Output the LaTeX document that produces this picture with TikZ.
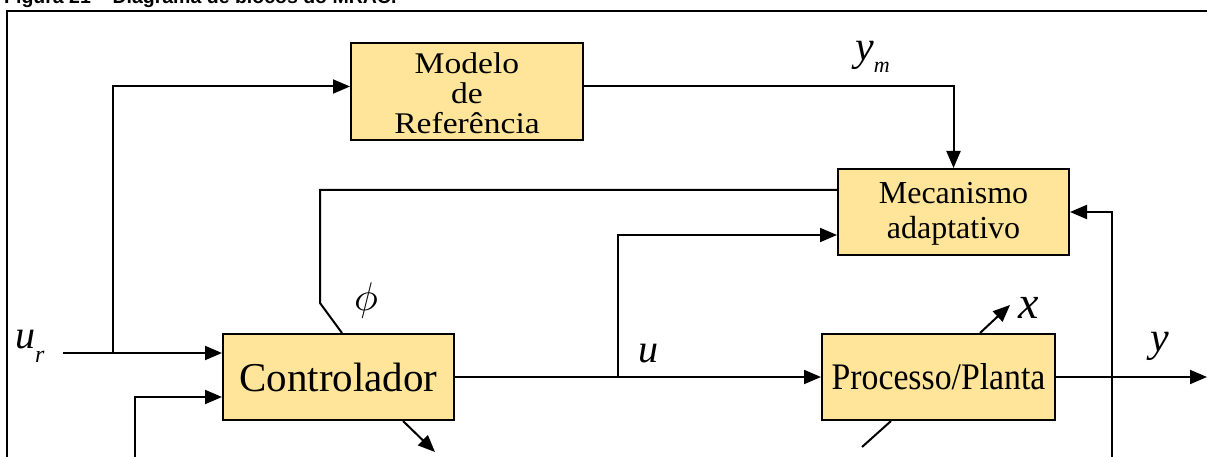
\documentclass[tikz,border=0pt]{standalone}
\usepackage{fontspec}
\setmainfont{Liberation Serif}
\setsansfont{Liberation Sans}
\usepackage{tikz}
\usetikzlibrary{arrows.meta}
\usetikzlibrary{positioning}

\definecolor{caixa}{RGB}{255,229,153}

\tikzset{
  bloco/.style={draw, line width=2pt, fill=caixa, inner sep=0pt, align=center},
  sinal/.style={line width=2pt, -{Triangle[length=17pt,width=14pt]}},
  fio/.style={line width=2pt},
  rotulo/.style={inner sep=0pt, anchor=base west},
}

\begin{document}
\begin{tikzpicture}[x=1pt,y=1pt]
  \useasboundingbox (0,0) rectangle (1207,-457);
  %% titulo e moldura
  \node (titulo) at (4,-4) [rotulo]{\sffamily\bfseries\fontsize{19.5}{20}\selectfont Figura 21 – Diagrama de blocos do MRAC.};
  \draw[line width=2pt] (7,-11) rectangle (1240,-490);

  %% blocos
  \node (modelo) at (467,-91.5) [bloco, minimum width=232pt, minimum height=97pt]
    {\raisebox{-12pt}[0pt][0pt]{\fontsize{30}{29}\selectfont\scalebox{1.12}[1]{\begin{tabular}{@{}c@{}}Modelo\\de\\Referência\end{tabular}}}};
  \node (mecanismo) at (953.5,-212) [bloco, minimum width=231pt, minimum height=86pt]
    {\raisebox{-8pt}[0pt][0pt]{\fontsize{32}{35}\selectfont\begin{tabular}{@{}c@{}}Mecanismo\\adaptativo\end{tabular}}};
  \node (controlador) at (338.5,-377) [bloco, minimum width=231pt, minimum height=86pt, font=\fontsize{41}{41}\selectfont]
    {Controlador};
  \node (processo) at (938.5,-377) [bloco, minimum width=233pt, minimum height=86pt]
    {\scalebox{0.9}[1]{\fontsize{37.5}{38}\selectfont Processo/Planta}};

  %% rotulos
  \node (lur) at (15,-348) [rotulo]{\fontsize{40}{40}\selectfont\textit{u}\raisebox{-14pt}{\fontsize{24}{24}\selectfont\textit{r}}};
  \node (lym) at (855,-61) [rotulo]{\fontsize{42}{42}\selectfont\textit{y}\raisebox{-12pt}{\fontsize{22}{22}\selectfont\textit{m}}};
  \node (lphi) at (366,-300) [inner sep=0pt]{\scalebox{4}{$\phi$}};
  \node (lu) at (638,-362) [rotulo]{\fontsize{40}{40}\selectfont\textit{u}};
  \node (lx) at (1018,-318) [rotulo]{\fontsize{46}{46}\selectfont\textit{x}};
  \node (ly) at (1150,-351) [rotulo]{\fontsize{42}{42}\selectfont\textit{y}};

  %% ligacoes
  % entrada u_r
  \coordinate (ur) at (63,-353);
  \coordinate (rur) at (113,-353);
  \draw[sinal] (ur) -- (ur -| controlador.west);
  \draw[sinal] (rur) |- ([yshift=5pt]modelo.west);
  \draw[sinal] ([yshift=5pt]modelo.east) -| (mecanismo.north);

  % sinal de controle u
  \coordinate (ru) at (618,-377);
  \draw[sinal] (controlador.east) -- (processo.west);
  \draw[sinal] (ru) |- ([yshift=-23pt]mecanismo.west);

  % parametros phi
  \coordinate (cphi) at (320,-303);
  \draw[fio] ([yshift=22pt]mecanismo.west) -| (cphi) -- ([xshift=3.5pt]controlador.north);

  % saida y e realimentacao
  \coordinate (saida) at (1207,-377);
  \coordinate (ry) at (1112,-457);
  \draw[sinal] (processo.east) -- (saida);
  \draw[sinal] (ry) |- (mecanismo.east);
  \coordinate (rc) at (135,-457);
  \draw[sinal] (rc) |- ([yshift=-20pt]controlador.west);

  % setas inclinadas
  \coordinate (sc) at (435,-452);
  \draw[sinal] ([xshift=64.5pt]controlador.south) -- (sc);
  \coordinate (sx) at (1010,-305);
  \draw[sinal] ([xshift=41.5pt]processo.north) -- (sx);
  \coordinate (pp) at (862,-447);
  \draw[fio] (pp) -- ([xshift=-47.5pt]processo.south);
\end{tikzpicture}
\end{document}
